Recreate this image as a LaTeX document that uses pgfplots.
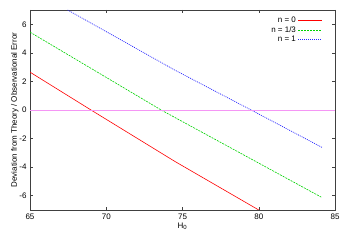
\documentclass[border=0pt]{standalone}
\usepackage{pgfplots}
\pgfplotsset{compat=1.18}
\usepackage{fontspec}
\setmainfont{Liberation Sans}
\definecolor{gpgreen}{RGB}{0,210,0}
\definecolor{gpmag}{RGB}{245,150,245}
\definecolor{gpblue}{RGB}{40,40,255}
\begin{document}
\begin{tikzpicture}
\begin{axis}[
  name=ax,
  scale only axis,
  width=305pt, height=200pt,
  xmin=65, xmax=85, ymin=-7, ymax=7,
  xtick={65,70,...,85}, ytick={-6,-4,...,6},
  tick align=inside,
  major tick length=3pt,
  axis line style={draw=black!75, line width=0.8pt},
  tick style={black!75, line width=0.5pt},
  font=\fontsize{8}{9}\selectfont,
  /pgf/number format/assume math mode=true,
  xlabel={H\textsubscript{0}},
  ylabel={Deviation from Theory / Observational Error},
  xlabel style={yshift=3pt},
  ylabel style={yshift=-6pt},
  legend style={at={(rel axis cs:0.97,0.985)}, anchor=north east, draw=none, fill=none,
     font=\fontsize{8}{9}\selectfont, row sep=-2pt},
  legend cell align=right,
  legend plot pos=right,
  legend image code/.code={\draw[#1] plot coordinates {(0pt,0pt) (24pt,0pt)};},
]
\addplot[red, line width=0.6pt] coordinates {(65,2.65) (69,0) (74.5,-3.6) (80,-7)};
\addlegendentry{n = 0}
\addplot[gpgreen, line width=0.6pt, dash pattern=on 2pt off 1pt] coordinates {(65,5.45) (73.6,0) (84.1,-6.1)};
\addlegendentry{n = 1/3}
\addplot[gpblue, line width=0.7pt, dash pattern=on 1pt off 1pt] coordinates {(67.47,7) (74.5,2.79) (79.5,0) (84.17,-2.63)};
\addlegendentry{n = 1}
\addplot[gpmag, line width=0.5pt, forget plot] coordinates {(65,0) (85,0)};
\end{axis}
\path (ax.south west) ++(-30pt,-35pt) coordinate (bl);
\path (ax.north east) ++(15pt,10pt) coordinate (tr);
\path (bl) rectangle (tr);
\end{tikzpicture}
\end{document}
